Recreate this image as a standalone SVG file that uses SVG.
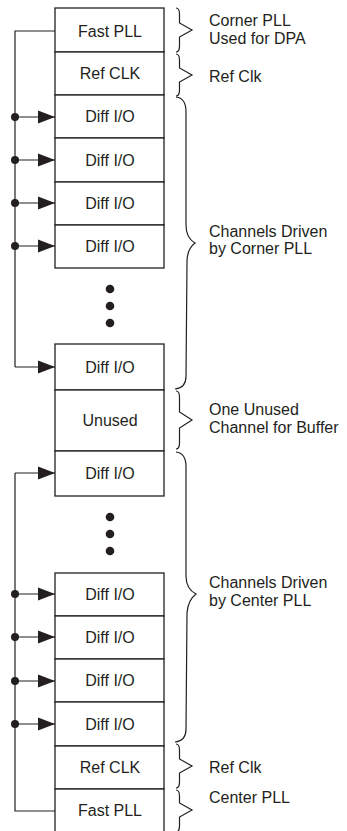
<svg xmlns="http://www.w3.org/2000/svg" width="347" height="831" viewBox="0 0 347 831">
<style>
.box{fill:#fff;stroke:#231f20;stroke-width:1.3}
.t{font-family:"Liberation Sans",Arial,sans-serif;font-size:16px;fill:#231f20}
.c{text-anchor:middle}
.w{fill:none;stroke:#231f20;stroke-width:1.2}
.br{fill:none;stroke:#231f20;stroke-width:1.2}
.dot{fill:#231f20}
</style>
<defs>
<marker id="ah" markerUnits="userSpaceOnUse" markerWidth="17" markerHeight="14" refX="17" refY="7" orient="auto">
<path d="M0,0.5 L17,7 L0,13.5 z" fill="#231f20"/>
</marker>
</defs>
<rect width="347" height="831" fill="#fff"/>

<g id="connectors">
<path class="w" d="M55,31 H15 V367" />
<path class="w" d="M15,367 H55" marker-end="url(#ah)"/>
<path class="w" d="M15,117 H55" marker-end="url(#ah)"/>
<path class="w" d="M15,160 H55" marker-end="url(#ah)"/>
<path class="w" d="M15,203 H55" marker-end="url(#ah)"/>
<path class="w" d="M15,246 H55" marker-end="url(#ah)"/>
<circle class="dot" cx="15" cy="117" r="4"/>
<circle class="dot" cx="15" cy="160" r="4"/>
<circle class="dot" cx="15" cy="203" r="4"/>
<circle class="dot" cx="15" cy="246" r="4"/>

<path class="w" d="M55,811 H15 V473" />
<path class="w" d="M15,473 H55" marker-end="url(#ah)"/>
<path class="w" d="M15,594 H55" marker-end="url(#ah)"/>
<path class="w" d="M15,637 H55" marker-end="url(#ah)"/>
<path class="w" d="M15,681 H55" marker-end="url(#ah)"/>
<path class="w" d="M15,724 H55" marker-end="url(#ah)"/>
<circle class="dot" cx="15" cy="594" r="4"/>
<circle class="dot" cx="15" cy="637" r="4"/>
<circle class="dot" cx="15" cy="681" r="4"/>
<circle class="dot" cx="15" cy="724" r="4"/>
</g>

<g id="n-fastpll-top"><rect class="box" x="55" y="8" width="109" height="44"/><text class="t c" x="110" y="36.5">Fast PLL</text></g>
<g id="n-refclk-top"><rect class="box" x="55" y="52" width="109" height="43"/><text class="t c" x="110" y="79">Ref CLK</text></g>
<g id="n-diff1"><rect class="box" x="55" y="95" width="109" height="43"/><text class="t c" x="110" y="122">Diff I/O</text></g>
<g id="n-diff2"><rect class="box" x="55" y="138" width="109" height="44"/><text class="t c" x="110" y="165.5">Diff I/O</text></g>
<g id="n-diff3"><rect class="box" x="55" y="182" width="109" height="43"/><text class="t c" x="110" y="209">Diff I/O</text></g>
<g id="n-diff4"><rect class="box" x="55" y="225" width="109" height="43"/><text class="t c" x="110" y="252">Diff I/O</text></g>
<g id="n-ellipsis1"><circle class="dot" cx="110" cy="289" r="4.3"/><circle class="dot" cx="110" cy="306" r="4.3"/><circle class="dot" cx="110" cy="323" r="4.3"/></g>
<g id="n-diff5"><rect class="box" x="55" y="344" width="109" height="46"/><text class="t c" x="110" y="372.5">Diff I/O</text></g>
<g id="n-unused"><rect class="box" x="55" y="390" width="109" height="61"/><text class="t c" x="110" y="426">Unused</text></g>
<g id="n-diff6"><rect class="box" x="55" y="451" width="109" height="45"/><text class="t c" x="110" y="479">Diff I/O</text></g>
<g id="n-ellipsis2"><circle class="dot" cx="110" cy="517" r="4.3"/><circle class="dot" cx="110" cy="534" r="4.3"/><circle class="dot" cx="110" cy="551" r="4.3"/></g>
<g id="n-diff7"><rect class="box" x="55" y="573" width="109" height="43"/><text class="t c" x="110" y="600">Diff I/O</text></g>
<g id="n-diff8"><rect class="box" x="55" y="616" width="109" height="43"/><text class="t c" x="110" y="643">Diff I/O</text></g>
<g id="n-diff9"><rect class="box" x="55" y="659" width="109" height="43"/><text class="t c" x="110" y="686">Diff I/O</text></g>
<g id="n-diff10"><rect class="box" x="55" y="702" width="109" height="44"/><text class="t c" x="110" y="729.5">Diff I/O</text></g>
<g id="n-refclk-bot"><rect class="box" x="55" y="746" width="109" height="43"/><text class="t c" x="110" y="773">Ref CLK</text></g>
<g id="n-fastpll-bot"><rect class="box" x="55" y="789" width="109" height="50"/><text class="t c" x="110" y="816">Fast PLL</text></g>

<g id="braces">
<path class="br" d="M176,8 Q179.5,8 179.5,14 L179.5,23 L192,30 L179.5,37 L179.5,46 Q179.5,52 176,52"/>
<path class="br" d="M176,54 Q179.5,54 179.5,60 L179.5,68 L192,75 L179.5,82 L179.5,90 Q179.5,96 176,96"/>
<path class="br" d="M176,97 Q186,98 186,112 L186,225 Q186,238 195,243 Q187,249 187,262 L186,376 Q186,388 175,389"/>
<path class="br" d="M176,391 Q179.5,391 179.5,397 L179.5,412 L192,420 L179.5,428 L179.5,443 Q179.5,449 176,449"/>
<path class="br" d="M176,452 Q186,453 186,467 L186,576 Q186,589 196,594 Q188,600 187,613 L186,729 Q186,741 175,742"/>
<path class="br" d="M176,744 Q179.5,744 179.5,750 L179.5,759 L192,766 L179.5,773 L179.5,782 Q179.5,788 176,788"/>
<path class="br" d="M176,790 Q179.5,790 179.5,796 L179.5,803 L192,810 L179.5,817 L179.5,826 Q179.5,832 176,832"/>
</g>

<g id="labels">
<text class="t" x="209" y="26">Corner PLL</text>
<text class="t" x="209" y="44">Used for DPA</text>
<text class="t" x="209" y="82">Ref Clk</text>
<text class="t" x="209" y="237">Channels Driven</text>
<text class="t" x="209" y="254">by Corner PLL</text>
<text class="t" x="209" y="415">One Unused</text>
<text class="t" x="209" y="433">Channel for Buffer</text>
<text class="t" x="209" y="588">Channels Driven</text>
<text class="t" x="209" y="606">by Center PLL</text>
<text class="t" x="209" y="773">Ref Clk</text>
<text class="t" x="209" y="803">Center PLL</text>
</g>
</svg>
